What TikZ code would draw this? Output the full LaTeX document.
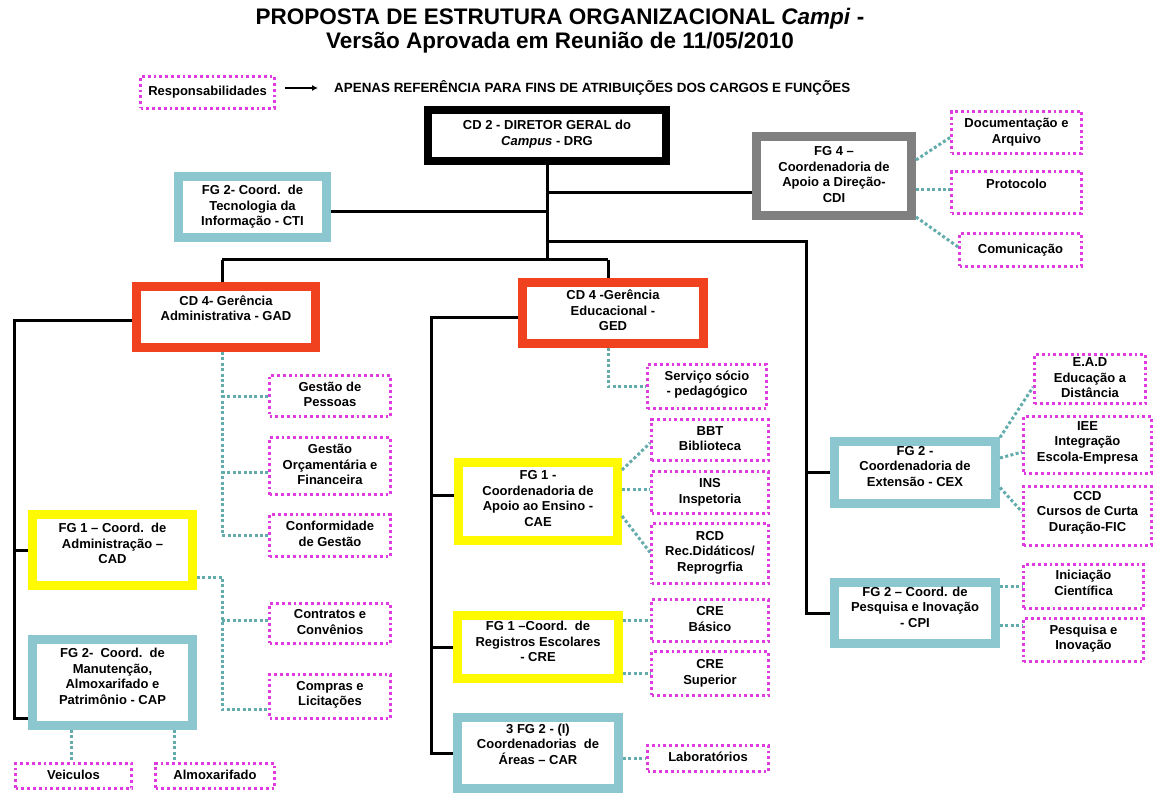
\documentclass[tikz,border=0pt]{standalone}
\usepackage{fontspec}
\setmainfont{Liberation Sans}
\usetikzlibrary{arrows.meta}
\definecolor{orgred}{RGB}{240,66,30}
\definecolor{ylw}{RGB}{255,250,0}
\definecolor{tealbox}{RGB}{140,198,206}
\definecolor{grayb}{RGB}{128,128,128}
\definecolor{mag}{RGB}{222,60,222}
\definecolor{tealdot}{RGB}{100,172,172}
\newcommand\tx[2][0pt]{\raisebox{0pt}[\height][\dimexpr\depth+#1\relax]{\begin{tabular}{@{}c@{}}#2\end{tabular}}}
\tikzset{
  box/.style={draw, rectangle, inner sep=0pt, fill=white,
    font=\fontsize{13}{15.5}\selectfont\bfseries},
  sz/.style 2 args={minimum width=#1, minimum height=#2},
  mainbox/.style={box, line width=9pt},
  drgbox/.style={box, line width=8pt, draw=black},
  redbox/.style={mainbox, draw=orgred},
  yelbox/.style={mainbox, draw=ylw},
  teabox/.style={mainbox, draw=tealbox},
  graybox/.style={mainbox, draw=grayb},
  resp/.style={box, draw=mag, line width=2.8pt, dash pattern=on 2.8pt off 3pt},
  link/.style={line width=3pt, draw=black},
  dots/.style={line width=3pt, draw=tealdot, dash pattern=on 3pt off 2.4pt},
}
\begin{document}
\begin{tikzpicture}[x=1pt, y=-1pt]
\useasboundingbox (0,0) rectangle (1157,794);
% title
\node (title) at (560,31) [font=\fontsize{22.5}{24}\selectfont\bfseries, align=center]
  {PROPOSTA DE ESTRUTURA ORGANIZACIONAL \textit{Campi} -\\Versão Aprovada em Reunião de 11/05/2010};
% legend
\node[resp, sz={134}{32}] (respb) at (207.5,92.5) {\tx{Responsabilidades}};
\node[anchor=west, inner sep=2pt, font=\fontsize{13.4}{15}\selectfont\bfseries] (apenas) at (332,88)
  {APENAS REFERÊNCIA PARA FINS DE ATRIBUIÇÕES DOS CARGOS E FUNÇÕES};
\draw[line width=1.6pt, -{Latex[length=6pt,width=6pt]}, shorten <=9pt, shorten >=14pt] (respb.east |- apenas.west) -- (apenas.west);

% top level
\node[drgbox, sz={238}{51}] (drg) at (547,135.5) {\tx[2pt]{CD 2 - DIRETOR GERAL do\\\textit{Campus} - DRG}};
\node[graybox, sz={155}{79}] (cdi) at (834,176) {\tx{FG 4 --\\Coordenadoria de\\Apoio a Direção-\\CDI}};
\node[teabox, sz={148}{61}] (cti) at (252.5,207) {\tx{FG 2- Coord.\ \ de\\Tecnologia da\\Informação - CTI}};
\node[resp, sz={130}{42}] (doc) at (1016.5,132.5) {\tx{Documentação e\\Arquivo}};
\node[resp, sz={130}{42}] (prot) at (1016.5,192.5) {\tx[15pt]{Protocolo}};
\node[resp, sz={122}{33}] (com) at (1020.5,250) {\tx{Comunicação}};

% managers
\node[redbox, sz={179}{61}] (gad) at (226,317) {\tx[14pt]{CD 4- Gerência\\Administrativa - GAD}};
\node[redbox, sz={181}{61}] (ged) at (613,313) {\tx[2pt]{CD 4 -Gerência\\Educacional -\\GED}};

% GAD side
\node[yelbox, sz={160}{71}] (cad) at (112.5,550) {\tx[10pt]{FG 1 -- Coord.\ \ de\\Administração --\\CAD}};
\node[teabox, sz={160}{86}] (cap) at (112.5,682.5) {\tx[9pt]{FG 2-\ \ Coord.\ \ de\\Manutenção,\\Almoxarifado e\\Patrimônio - CAP}};
\node[resp, sz={116}{25}] (veic) at (73.5,776) {\tx{Veiculos}};
\node[resp, sz={119}{25}] (almox) at (215,776) {\tx{Almoxarifado}};
\node[resp, sz={121}{41}] (gp) at (330,396) {\tx{Gestão de\\Pessoas}};
\node[resp, sz={121}{57}] (go) at (330,466) {\tx{Gestão\\Orçamentária e\\Financeira}};
\node[resp, sz={121}{42}] (cg) at (330,535.5) {\tx{Conformidade\\de Gestão}};
\node[resp, sz={121}{40}] (cc) at (330,623.5) {\tx{Contratos e\\Convênios}};
\node[resp, sz={121}{44}] (cl) at (330,696.5) {\tx[3pt]{Compras e\\Licitações}};

% GED side
\node[resp, sz={119}{44}] (ssp) at (707,386.5) {\tx[3pt]{Serviço sócio\\- pedagógico}};
\node[yelbox, sz={159}{78}] (cae) at (538,501.5) {\tx[3pt]{FG 1 -\\Coordenadoria de\\Apoio ao Ensino -\\CAE}};
\node[resp, sz={117}{41}] (bbt) at (710,440) {\tx{BBT\\Biblioteca}};
\node[resp, sz={117}{42}] (ins) at (710,492.5) {\tx{INS\\Inspetoria}};
\node[resp, sz={117}{60}] (rcd) at (710,553.5) {\tx[2pt]{RCD\\Rec.Didáticos/\\Reprogrfia}};
\node[yelbox, sz={161}{63}] (cre) at (538,647) {\tx[8pt]{FG 1 --Coord.\ \ de\\Registros Escolares\\- CRE}};
\node[resp, sz={117}{42}] (creb) at (710,620.5) {\tx{CRE\\Básico}};
\node[resp, sz={117}{44}] (cres) at (710,673.5) {\tx{CRE\\Superior}};
\node[teabox, sz={161}{71}] (car) at (538,753) {\tx[14pt]{3 FG 2 - (I)\\Coordenadorias\ \ de\\Áreas -- CAR}};
\node[resp, sz={121}{26}] (lab) at (708,758.5) {\tx{Laboratórios}};

% right side
\node[teabox, sz={161}{62}] (cex) at (915,472.5) {\tx[10pt]{FG 2 -\\Coordenadoria de\\Extensão - CEX}};
\node[resp, sz={111}{49}] (ead) at (1090,379) {\tx{E.A.D\\Educação a\\Distância}};
\node[resp, sz={128}{57}] (iee) at (1087.5,445) {\tx[5pt]{IEE\\Integração\\Escola-Empresa}};
\node[resp, sz={128}{59}] (ccd) at (1087.5,516) {\tx[7pt]{CCD\\Cursos de Curta\\Duração-FIC}};
\node[teabox, sz={161}{61}] (cpi) at (915,613) {\tx[9pt]{FG 2 -- Coord. de\\Pesquisa e Inovação\\- CPI}};
\node[resp, sz={120}{44}] (ic) at (1083.5,586.5) {\tx[4pt]{Iniciação\\Científica}};
\node[resp, sz={120}{43}] (pi) at (1083.5,640) {\tx[2pt]{Pesquisa e\\Inovação}};

% junction coordinates
\coordinate (jbar) at (547,260);
\coordinate (jgad) at (222,260);
\coordinate (jged) at (608,260);
\coordinate (jright) at (806,242);
\coordinate (jleft) at (14,317);
\coordinate (jmid) at (431,313);
\coordinate (capw) at ([yshift=-35.5pt]cap.west);
\coordinate (clw) at ([yshift=-13pt]cl.west);
\coordinate (xveic) at (71,0);
\coordinate (xalm) at (174,0);

% black solid connectors
\draw[link] (drg.south) -- (jbar);
\draw[link] ([yshift=-5pt]cti.east) -- ([yshift=-5pt]cti.east -| drg.south);
\draw[link] ([yshift=-17pt]cdi.west) -- ([yshift=-17pt]cdi.west -| drg.south);
\draw[link] (jright -| drg.south) -- (jright) -- (jright |- cpi.west) -- (cpi.west);
\draw[link] (jright |- cex.west) -- (cex.west);
\draw[link] (jgad) -- (jged);
\draw[link] (jgad) -- (jgad |- gad.north);
\draw[link] (jged) -- (jged |- ged.north);
\draw[link] ([yshift=-4pt]gad.west) -- ([yshift=-4pt]gad.west -| jleft) -- (jleft |- capw) -- (capw);
\draw[link] (jleft |- cad.west) -- (cad.west);
\draw[link] ([yshift=-5pt]ged.west) -- ([yshift=-5pt]ged.west -| jmid) -- (jmid |- car.west) -- (car.west);
\draw[link] ([yshift=6pt]jmid |- cae.west) -- ([yshift=6pt]cae.west);
\draw[link] (jmid |- cre.west) -- (cre.west);

% teal dotted connectors
\draw[dots] ([yshift=16pt]cdi.east) -- ([yshift=-5pt]doc.west);
\draw[dots] ([yshift=-14pt]cdi.east) -- ([yshift=-14pt]cdi.east -| prot.west);
\draw[dots] ([yshift=-41pt]cdi.east) -- ([yshift=3pt]com.west);

\draw[dots] (jgad |- gad.south) -- (jgad |- cg.west) -- (cg.west);
\draw[dots] (jgad |- gp.west) -- (gp.west);
\draw[dots] ([yshift=-6pt]jgad |- go.west) -- ([yshift=-6pt]go.west);
\draw[dots] ([yshift=-27pt]cad.east) -- ([yshift=-27pt]cad.east -| jgad) -- (jgad |- clw) -- (clw);
\draw[dots] ([yshift=3pt]jgad |- cc.west) -- ([yshift=3pt]cc.west);
\draw[dots] (xveic |- cap.south) -- (xveic |- veic.north);
\draw[dots] (xalm |- cap.south) -- (xalm |- almox.north);

\draw[dots] ([xshift=-5pt]ged.south) |- (ssp.west);
\draw[dots] ([yshift=31.5pt]cae.east) -- ([yshift=-3pt]bbt.west);
\draw[dots] ([yshift=12.5pt]cae.east) -- ([yshift=12.5pt]cae.east -| ins.west);
\draw[dots] ([yshift=-14.5pt]cae.east) -- ([yshift=1pt]rcd.west);
\draw[dots] (cre.east |- creb.west) -- (creb.west);
\draw[dots] (cre.east |- cres.west) -- (cres.west);
\draw[dots] (car.east |- lab.west) -- (lab.west);

\draw[dots] ([yshift=35pt]cex.east) -- ([yshift=-8pt]ead.west);
\draw[dots] ([yshift=14.5pt]cex.east) -- ([yshift=-7pt]iee.west);
\draw[dots] ([yshift=-15pt]cex.east) -- ([yshift=4pt]ccd.west);
\draw[dots] (cpi.east |- ic.west) -- (ic.west);
\draw[dots] ([yshift=-12pt]cpi.east) -- ([yshift=-12pt]cpi.east -| pi.west);
\end{tikzpicture}
\end{document}
